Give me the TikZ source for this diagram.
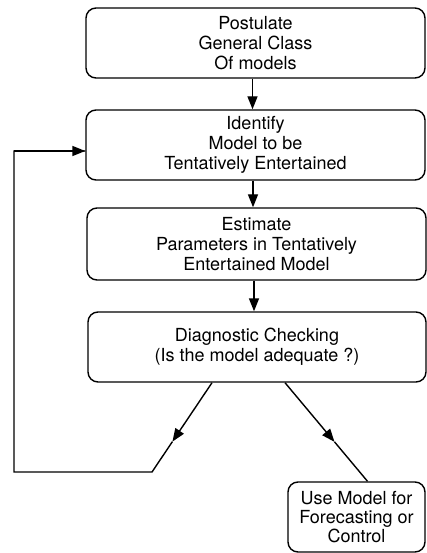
\documentclass[tikz,border=0pt]{standalone}
\usepackage{fontspec}
\setmainfont{TeX Gyre Heros}
\usetikzlibrary{arrows.meta,calc}
\begin{document}
\begin{tikzpicture}[x=1pt,y=-1pt,
  box/.style={draw,line width=1.4pt,rounded corners=10pt,align=center,
    inner sep=0pt,font=\fontsize{18}{20}\selectfont},
  conn/.style={line width=1.4pt},
  arr/.style={conn,-{Triangle[length=13pt,width=10pt]}}]
\useasboundingbox (0,0) rectangle (427,553);
\node[box,minimum width=339pt,minimum height=70pt] (b1) at (255.5,43) {Postulate\\General Class\\Of models};
\node[box,minimum width=339pt,minimum height=70pt] (b2) at (255.5,145) {Identify\\Model to be\\Tentatively Entertained};
\node[box,minimum width=339pt,minimum height=72pt] (b3) at (256.5,244) {Estimate\\Parameters in Tentatively\\Entertained Model};
\node[box,minimum width=338pt,minimum height=70pt] (b4) at (257,347) {Diagnostic Checking\\(Is the model adequate ?)};
\node[box,minimum width=137pt,minimum height=70pt,font=\fontsize{18}{19}\selectfont] (b5) at (356.5,517) {Use Model for\\Forecasting or\\Control};
\draw[arr] ([xshift=-3pt]b1.south) -- ([xshift=-3pt]b1.south |- b2.north);
\draw[arr] ([xshift=-2.5pt]b2.south) -- ([xshift=-2.5pt]b2.south |- b3.north);
\draw[arr] ([xshift=-2.5pt]b3.south) -- ([xshift=-2.5pt]b3.south |- b4.north);
% left branch (feedback)
\coordinate (ls) at ([xshift=-45pt]b4.south);
\coordinate (lc) at (152,472);
\coordinate (lm) at ($(ls)!0.66!(lc)$);
\coordinate (lb) at (14,472);
\draw[arr] (ls) -- (lm);
\draw[conn] (lm) -- (lc) -- (lb) |- ([yshift=-6pt]b2.west) coordinate (lt);
\draw[arr] (lb |- lt) -- (lt);
% right branch
\coordinate (rs) at ([xshift=28pt]b4.south);
\coordinate (re) at ([xshift=11pt]b5.north);
\coordinate (rm) at ($(rs)!0.6!(re)$);
\draw[arr] (rs) -- (rm);
\draw[conn] (rm) -- (re);
\end{tikzpicture}
\end{document}
